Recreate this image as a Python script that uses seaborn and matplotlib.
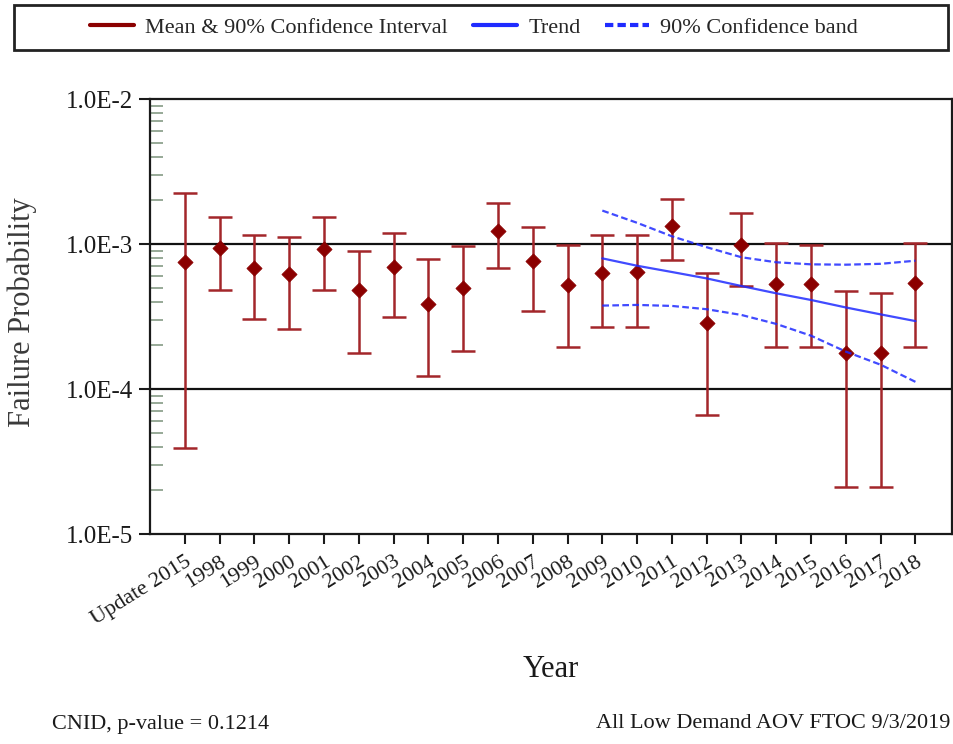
import numpy as np
import pandas as pd
import matplotlib
matplotlib.use("Agg")
import matplotlib.pyplot as plt
import matplotlib.patches as mpatches
from matplotlib.lines import Line2D
from matplotlib.ticker import LogLocator, NullFormatter
import seaborn as sns

# ---------------- data ----------------
categories = ["Update 2015", "1998", "1999", "2000", "2001", "2002", "2003", "2004",
              "2005", "2006", "2007", "2008", "2009", "2010", "2011", "2012", "2013",
              "2014", "2015", "2016", "2017", "2018"]
mean_vals = [7.5e-4, 9.4e-4, 6.8e-4, 6.2e-4, 9.3e-4, 4.8e-4, 6.9e-4, 3.85e-4,
             5.0e-4, 1.22e-3, 7.6e-4, 5.2e-4, 6.3e-4, 6.4e-4, 1.33e-3, 2.86e-4,
             9.8e-4, 5.3e-4, 5.3e-4, 1.78e-4, 1.78e-4, 5.35e-4]
lower_vals = [3.9e-5, 4.8e-4, 3.06e-4, 2.61e-4, 4.8e-4, 1.78e-4, 3.15e-4, 1.22e-4,
              1.84e-4, 6.8e-4, 3.47e-4, 1.96e-4, 2.69e-4, 2.69e-4, 7.7e-4, 6.6e-5,
              5.1e-4, 1.96e-4, 1.96e-4, 2.12e-5, 2.12e-5, 1.96e-4]
upper_vals = [2.26e-3, 1.54e-3, 1.15e-3, 1.12e-3, 1.54e-3, 9.0e-4, 1.2e-3, 7.9e-4,
              9.7e-4, 1.93e-3, 1.31e-3, 9.8e-4, 1.15e-3, 1.15e-3, 2.03e-3, 6.3e-4,
              1.64e-3, 1.02e-3, 9.8e-4, 4.74e-4, 4.57e-4, 1.02e-3]

trend_years = ["2009", "2010", "2011", "2012", "2013", "2014", "2015", "2016", "2017", "2018"]
trend_vals = [7.96e-4, 7.08e-4, 6.41e-4, 5.79e-4, 5.13e-4, 4.57e-4, 4.11e-4, 3.65e-4, 3.27e-4, 2.94e-4]
band_upper = [1.70e-3, 1.40e-3, 1.13e-3, 9.5e-4, 8.1e-4, 7.48e-4, 7.24e-4, 7.2e-4, 7.3e-4, 7.67e-4]
band_lower = [3.76e-4, 3.80e-4, 3.74e-4, 3.55e-4, 3.24e-4, 2.81e-4, 2.33e-4, 1.81e-4, 1.47e-4, 1.12e-4]

ytick_vals = [1e-5, 1e-4, 1e-3, 1e-2]
ytick_labels = ["1.0E-5", "1.0E-4", "1.0E-3", "1.0E-2"]

legend_labels = ["Mean & 90% Confidence Interval", "Trend", "90% Confidence band"]
footer_left = "CNID, p-value = 0.1214"
footer_right = "All Low Demand AOV FTOC 9/3/2019"

# ---------------- style ----------------
sns.set_theme(style="ticks")
plt.rcParams["font.family"] = ["Liberation Serif", "DejaVu Serif"]
plt.rcParams["mathtext.default"] = "regular"

W, H = 954, 744
fig = plt.figure(figsize=(W / 100, H / 100), dpi=100)
fig.patch.set_facecolor("white")
ax = fig.add_axes([150 / W, 1 - 534 / H, 802 / W, 435 / H])

pos = np.arange(len(categories))
df = pd.DataFrame({"pos": pos, "mean": mean_vals, "lower": lower_vals, "upper": upper_vals})
tpos = [categories.index(y) for y in trend_years]
dft = pd.DataFrame({"pos": tpos, "trend": trend_vals, "hi": band_upper, "lo": band_lower})

err_color = "#A3262A"
mark_color = "#8B0000"
blue = "#1F2BFF"

ax.set_yscale("log")

# reference grid lines
for v in [1e-3, 1e-4]:
    ax.axhline(v, color="#111111", lw=1.6, zorder=1)

ax.errorbar(df["pos"], df["mean"],
            yerr=[df["mean"] - df["lower"], df["upper"] - df["mean"]],
            fmt="none", ecolor=err_color, elinewidth=1.8, capsize=8.5, capthick=1.8, zorder=3)
sns.scatterplot(data=df, x="pos", y="mean", marker="D", s=60, color=mark_color,
                edgecolor=mark_color, linewidth=0.5, zorder=4, ax=ax, legend=False)

sns.lineplot(data=dft, x="pos", y="trend", color=blue, lw=1.6, ax=ax, zorder=5)
sns.lineplot(data=dft, x="pos", y="hi", color=blue, lw=1.6, ax=ax, zorder=5,
             linestyle=(0, (3, 1.5)))
sns.lineplot(data=dft, x="pos", y="lo", color=blue, lw=1.6, ax=ax, zorder=5,
             linestyle=(0, (3, 1.5)))
for ln in ax.lines[-3:]:
    ln.set_alpha(0.85)

ax.set_ylim(1e-5, 1e-2)
ax.set_xlim(-1, 22.05)

ax.set_yticks(ytick_vals)
ax.set_yticklabels(ytick_labels)
ax.yaxis.set_minor_locator(LogLocator(base=10, subs=np.arange(2, 10)))
ax.yaxis.set_minor_formatter(NullFormatter())
ax.set_xticks(pos)
ax.set_xticklabels(categories, rotation=32, ha="right", va="top", rotation_mode="anchor")

ax.tick_params(axis="y", which="major", direction="out", length=8, width=1.5,
               labelsize=18, pad=4, colors="#1a1a1a")
ax.tick_params(axis="y", which="minor", direction="in", length=9, width=1.3,
               color="#8FA38F")
ax.tick_params(axis="x", which="major", direction="out", length=7, width=1.5,
               labelsize=16, pad=6, colors="#1a1a1a")

for s in ax.spines.values():
    s.set_color("#1a1a1a")
    s.set_linewidth(1.6)
    s.set_visible(True)

ax.set_xlabel("Year", fontsize=22, color="#1a1a1a")
ax.set_ylabel("Failure Probability", fontsize=22, color="#3a3a3a")
ax.xaxis.set_label_coords(0.5, (534 - 655) / 435)
ax.yaxis.set_label_coords((37 - 150) / 802, (534 - 312) / 435)

# legend box at top
fig.patches.append(mpatches.Rectangle((14 / W, 1 - 50 / H), 934 / W, 45 / H,
                                      transform=fig.transFigure, fill=False,
                                      edgecolor="#222222", lw=2))
handles = [Line2D([], [], color=mark_color, lw=3),
           Line2D([], [], color=blue, lw=3),
           Line2D([], [], color=blue, lw=3, linestyle=(0, (2, 1)))]
fig.legend(handles, legend_labels, loc="center", bbox_to_anchor=(474 / W, 1 - 28 / H),
           ncol=3, frameon=False, fontsize=16, handlelength=2.0, handletextpad=0.5,
           columnspacing=1.1)

fig.text(52 / W, 1 - 724 / H, footer_left, fontsize=16, ha="left", va="center", color="#1a1a1a")
fig.text(950 / W, 1 - 724 / H, footer_right, fontsize=16, ha="right", va="center", color="#1a1a1a")

fig.savefig("out.png", dpi=100, facecolor="white")
